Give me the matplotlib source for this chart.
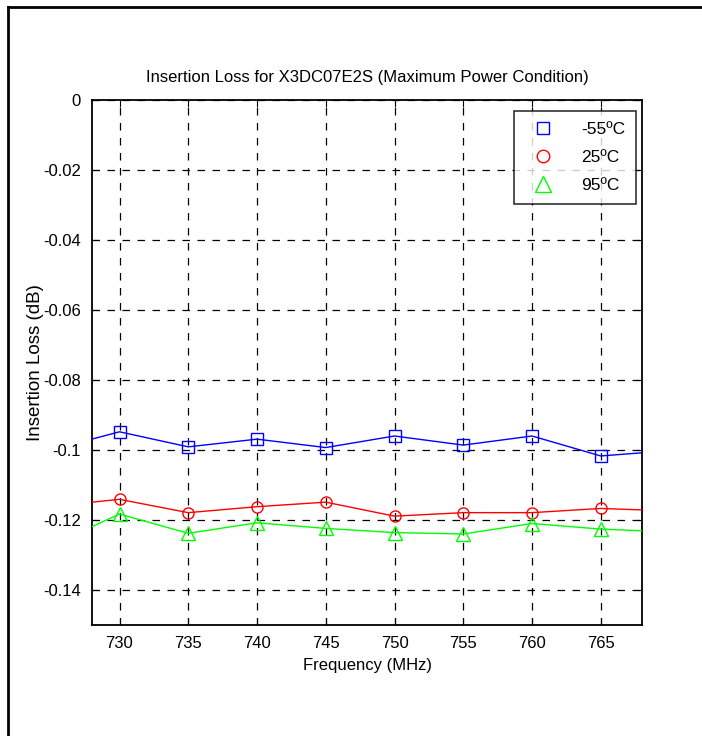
import matplotlib
matplotlib.use('Agg')
import matplotlib.pyplot as plt
from matplotlib.lines import Line2D
from matplotlib.ticker import FuncFormatter

# Datos (dB); los extremos 725 y 770 solo dan la linea, sin marcador
freq = [725, 730, 735, 740, 745, 750, 755, 760, 765, 770]
il_m55 = [-0.1000, -0.0948, -0.0991, -0.0969, -0.0993, -0.0960, -0.0986, -0.0960, -0.1017, -0.1002]
il_25 = [-0.1161, -0.1141, -0.1179, -0.1162, -0.1149, -0.1189, -0.1179, -0.1179, -0.1167, -0.1174]
il_95 = [-0.1273, -0.1183, -0.1238, -0.1208, -0.1224, -0.1236, -0.1240, -0.1210, -0.1226, -0.1234]
series_labels = ['-55ºC', '25ºC', '95ºC']
xticks = [730, 735, 740, 745, 750, 755, 760, 765]
yticks = [0, -0.02, -0.04, -0.06, -0.08, -0.1, -0.12, -0.14]

plt.rcParams['font.family'] = ['Liberation Sans', 'DejaVu Sans']
plt.rcParams['axes.unicode_minus'] = False

fig = plt.figure(figsize=(7.02, 7.36), dpi=100)
ax = fig.add_axes([92/702, 1 - 625/736, 550/702, 525/736])

series = [
    (il_m55, '#0000FF', 's', 8),
    (il_25, '#FF0000', 'o', 8),
    (il_95, '#00FF00', '^', 10),
]
handles = []
for (vals, color, mk, ms), lab in zip(series, series_labels):
    ax.plot(freq, vals, color=color, linewidth=1, marker=mk, markersize=ms,
            markerfacecolor='none', markeredgecolor=color, markeredgewidth=1,
            markevery=list(range(1, len(freq) - 1)), zorder=3)
    handles.append(Line2D([], [], linestyle='none', marker=mk, markersize=ms + 1,
                          markerfacecolor='none', markeredgecolor=color,
                          markeredgewidth=1, label=lab))

ax.set_xlim(728, 768)
ax.set_ylim(-0.15, 0)
ax.set_xticks(xticks)
ax.set_yticks(yticks)
ax.yaxis.set_major_formatter(FuncFormatter(lambda v, p: '%g' % round(v, 4)))

ax.grid(True, color='black', linestyle=(0, (6, 6)), linewidth=0.9)
ax.tick_params(direction='in', length=5, width=0.8, top=True, right=True,
               labelsize=12, pad=8)
for sp in ax.spines.values():
    sp.set_linewidth(1.3)

ax.set_title('Insertion Loss for X3DC07E2S (Maximum Power Condition)',
             fontsize=12, pad=13)
ax.set_xlabel('Frequency (MHz)', fontsize=12, labelpad=5)
ax.set_ylabel('Insertion Loss (dB)', fontsize=13.5)
ax.yaxis.set_label_coords(-0.088, 0.5)

leg = ax.legend(handles=handles, loc='upper right', bbox_to_anchor=(0.9985, 0.9885),
                fontsize=12.5, frameon=True, fancybox=False, borderpad=0.6,
                labelspacing=0.75, handletextpad=1.1, handlelength=2.2,
                borderaxespad=0.3)
leg.get_frame().set_edgecolor('black')
leg.get_frame().set_linewidth(1.2)

# Marco exterior (solo arriba y a la izquierda)
fig.add_artist(Line2D([8/702, 1], [1 - 7/736, 1 - 7/736], color='black', linewidth=2,
                      transform=fig.transFigure))
fig.add_artist(Line2D([8/702, 8/702], [0, 1 - 7/736], color='black', linewidth=2,
                      transform=fig.transFigure))

fig.savefig('out.png', dpi=100, facecolor='white')
